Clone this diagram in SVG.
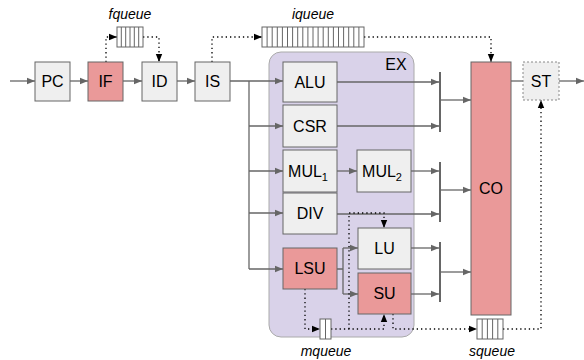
<svg xmlns="http://www.w3.org/2000/svg" width="584" height="360" viewBox="0 0 584 360">
<defs>
<marker id="ag" viewBox="0 0 10 10" refX="10" refY="5" markerWidth="8" markerHeight="8" markerUnits="userSpaceOnUse" orient="auto"><path d="M0,1 L10,5 L0,9 z" fill="#666"/></marker>
<marker id="ab" viewBox="0 0 10 10" refX="10" refY="5" markerWidth="8" markerHeight="8" markerUnits="userSpaceOnUse" orient="auto"><path d="M0,1 L10,5 L0,9 z" fill="#000"/></marker>
<style>
.box{fill:#efefef;stroke:#666;stroke-width:1}
.red{fill:#ea9999;stroke:#666;stroke-width:1}
.t{font-family:"Liberation Sans",Arial,sans-serif;font-size:16px;fill:#000;text-anchor:middle}
.q{font-family:"Liberation Sans",Arial,sans-serif;font-size:14px;font-style:italic;fill:#000;text-anchor:middle}
.ln{fill:none;stroke:#666;stroke-width:1.3}
.bar{fill:none;stroke:#666;stroke-width:2}
.dot{fill:none;stroke:#000;stroke-width:1.3;stroke-dasharray:1.3,3}
.qc{fill:#fff;stroke:#666;stroke-width:1}
</style>
</defs>
<g id="EX"><rect x="269" y="52" width="145" height="285" rx="12" fill="#d9d2e9" stroke="#aaa" stroke-width="1"/><text class="t" x="396" y="70">EX</text></g>
<g id="connectors">
<path class="ln" d="M10,81 H35" marker-end="url(#ag)"/>
<path class="ln" d="M70,81 H88" marker-end="url(#ag)"/>
<path class="ln" d="M123,81 H142" marker-end="url(#ag)"/>
<path class="ln" d="M177,81 H195" marker-end="url(#ag)"/>
<path class="ln" d="M230,81 H283" marker-end="url(#ag)"/>
<path class="ln" d="M249,81 V269"/>
<path class="ln" d="M249,126 H283" marker-end="url(#ag)"/>
<path class="ln" d="M249,171 H283" marker-end="url(#ag)"/>
<path class="ln" d="M249,213 H283" marker-end="url(#ag)"/>
<path class="ln" d="M249,269 H283" marker-end="url(#ag)"/>
<path class="ln" d="M337,171 H357" marker-end="url(#ag)"/>
<path class="ln" d="M337,82 H439" marker-end="url(#ag)"/>
<path class="ln" d="M337,126 H439" marker-end="url(#ag)"/>
<path class="ln" d="M411,171 H439" marker-end="url(#ag)"/>
<path class="ln" d="M337,214 H439" marker-end="url(#ag)"/>
<path class="ln" d="M411,248 H439" marker-end="url(#ag)"/>
<path class="ln" d="M411,294 H439" marker-end="url(#ag)"/>
<path class="ln" d="M337,269 H343 M343,248 V294"/>
<path class="ln" d="M343,248 H358" marker-end="url(#ag)"/>
<path class="ln" d="M343,294 H358" marker-end="url(#ag)"/>
<path class="bar" d="M440,72 V132 M440,162 V222 M440,242 V302"/>
<path class="ln" d="M440,100 H471" marker-end="url(#ag)"/>
<path class="ln" d="M440,190 H471" marker-end="url(#ag)"/>
<path class="ln" d="M440,272 H471" marker-end="url(#ag)"/>
<path class="ln" d="M511,81 H523"/>
<path class="ln" d="M559,81 H584" marker-end="url(#ag)"/>
<path class="dot" d="M106,62 V37 H117" marker-end="url(#ab)"/>
<path class="dot" d="M143,37 H159 V62" marker-end="url(#ab)"/>
<path class="dot" d="M212,62 V37 H262" marker-end="url(#ab)"/>
<path class="dot" d="M364,37 H491 V62" marker-end="url(#ab)"/>
<path class="dot" d="M305,289 V329 H320" marker-end="url(#ab)"/>
<path class="dot" d="M331,329 H384 V314" marker-end="url(#ab)"/>
<path class="dot" d="M349,329 V213 H384 V228" marker-end="url(#ab)"/>
<path class="dot" d="M393,314 V329 H477" marker-end="url(#ab)"/>
<path class="dot" d="M503,329 H541 V100" marker-end="url(#ab)"/>
</g>
<g id="PC"><rect class="box" x="35" y="62" width="35" height="39"/><text class="t" x="52.5" y="87">PC</text></g>
<g id="IF"><rect class="red" x="88" y="62" width="35" height="39"/><text class="t" x="105.5" y="87">IF</text></g>
<g id="ID"><rect class="box" x="142" y="62" width="35" height="39"/><text class="t" x="159.5" y="87">ID</text></g>
<g id="IS"><rect class="box" x="195" y="62" width="35" height="39"/><text class="t" x="212.5" y="87">IS</text></g>
<g id="fqueue"><rect class="qc" x="117" y="27" width="26" height="20"/><path stroke="#666" stroke-width="1" d="M121.3,27V47M125.7,27V47M130,27V47M134.3,27V47M138.7,27V47"/><text class="q" x="130" y="19">fqueue</text></g>
<g id="iqueue"><rect class="qc" x="262" y="27" width="102" height="20"/><path stroke="#666" stroke-width="1" d="M267.1,27V47M272.2,27V47M277.3,27V47M282.4,27V47M287.5,27V47M292.6,27V47M297.7,27V47M302.8,27V47M307.9,27V47M313,27V47M318.1,27V47M323.2,27V47M328.3,27V47M333.4,27V47M338.5,27V47M343.6,27V47M348.7,27V47M353.8,27V47M358.9,27V47"/><text class="q" x="313" y="19">iqueue</text></g>
<g id="ALU"><rect class="box" x="283" y="62" width="54" height="40"/><text class="t" x="310" y="88">ALU</text></g>
<g id="CSR"><rect class="box" x="283" y="105" width="54" height="42"/><text class="t" x="310" y="132">CSR</text></g>
<g id="MUL1"><rect class="box" x="283" y="150" width="54" height="42"/><text class="t" x="308" y="177">MUL<tspan font-size="11" dy="4">1</tspan></text></g>
<g id="MUL2"><rect class="box" x="357" y="150" width="54" height="42"/><text class="t" x="382" y="177">MUL<tspan font-size="11" dy="4">2</tspan></text></g>
<g id="DIV"><rect class="box" x="283" y="193" width="54" height="41"/><text class="t" x="310" y="219">DIV</text></g>
<g id="LSU"><rect class="red" x="283" y="248" width="54" height="41"/><text class="t" x="310" y="274">LSU</text></g>
<g id="LU"><rect class="box" x="358" y="228" width="53" height="41"/><text class="t" x="384.5" y="254">LU</text></g>
<g id="SU"><rect class="red" x="358" y="273" width="53" height="41"/><text class="t" x="384.5" y="299">SU</text></g>
<g id="mqueue"><rect class="qc" x="320" y="319" width="11" height="20"/><path stroke="#666" stroke-width="1" d="M325.5,319V339"/><text class="q" x="326" y="356">mqueue</text></g>
<g id="squeue"><rect class="qc" x="477" y="319" width="26" height="20"/><path stroke="#666" stroke-width="1" d="M482.2,319V339M487.4,319V339M492.6,319V339M497.8,319V339"/><text class="q" x="492" y="356">squeue</text></g>
<g id="CO"><rect class="red" x="471" y="62" width="40" height="253"/><text class="t" x="491" y="194">CO</text></g>
<g id="ST"><rect x="523" y="62" width="36" height="38" fill="#efefef" stroke="#888" stroke-width="1" stroke-dasharray="2,2"/><text class="t" x="541" y="87">ST</text></g>
</svg>
